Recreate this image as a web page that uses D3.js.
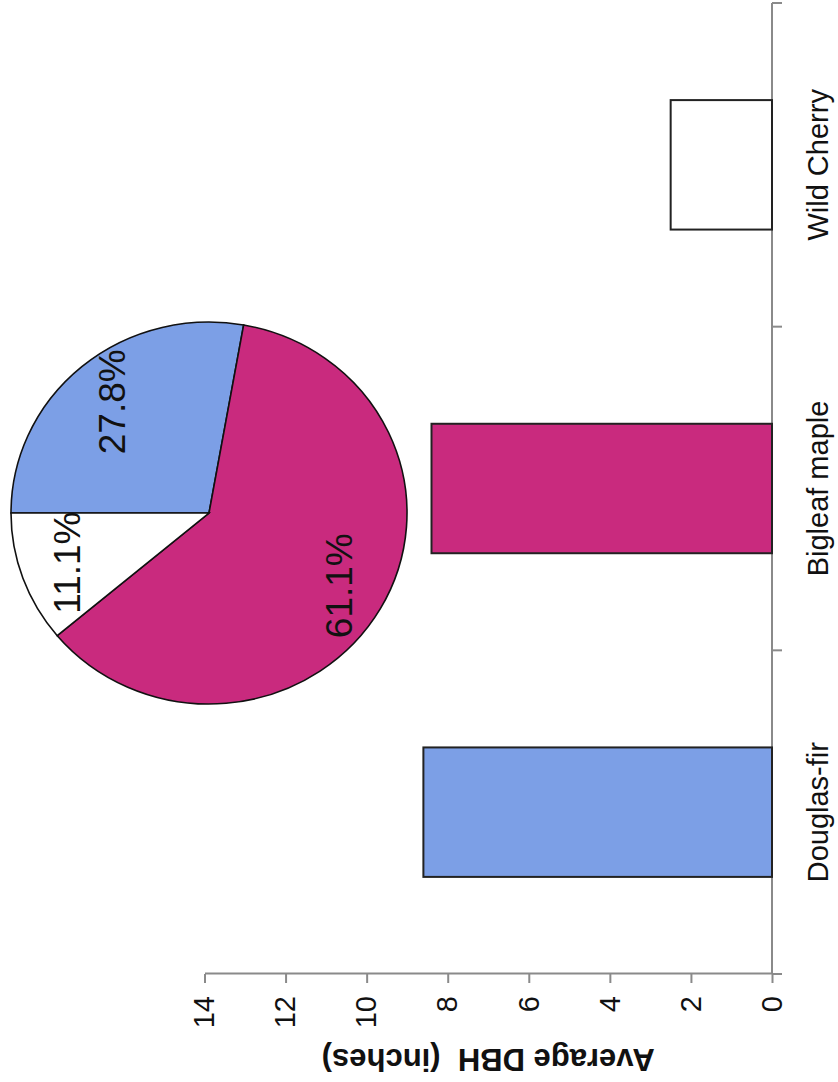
<!DOCTYPE html>
<html>
<head>
<meta charset="utf-8">
<script src="https://cdn.jsdelivr.net/npm/d3@7/dist/d3.min.js"></script>
<style>
  html, body { margin: 0; padding: 0; background: #fff; }
  svg { display: block; }
  text { font-family: "Liberation Sans", Arial, Helvetica, sans-serif; }
</style>
</head>
<body>
<svg id="chart" width="838" height="1082"></svg>
<script>
// Species and their average DBH (inches)
const species = ["Douglas-fir", "Bigleaf maple", "Wild Cherry"];
const avgDBH = [8.6, 8.4, 2.5];
// Share of stems by species (%)
const stemShare = [27.8, 61.1, 11.1];
const speciesColors = ["#7c9fe6", "#c92a7e", "#ffffff"];
const dbhTicks = [0, 2, 4, 6, 8, 10, 12, 14];
const yTitle = "Average DBH  (inches)";

const W = 1082, H = 838; // chart drawn in an upright frame, then turned onto the page
const svg = d3.select("#chart");
const g = svg.append("g").attr("transform", `translate(0,${W}) rotate(-90)`);

const axisColor = "#8a8a8a";

const x = d3.scaleBand().domain(species).range([108, 1079])
  .paddingInner(0.6).paddingOuter(0.3);
const y = d3.scaleLinear().domain([0, 14]).range([772, 204.5]);

// value axis
const yAxis = d3.axisLeft(y).tickValues(dbhTicks).tickSize(9).tickSizeOuter(0).tickPadding(13);
const ya = g.append("g").attr("transform", "translate(108,0)").call(yAxis);
ya.select(".domain").attr("stroke", axisColor).attr("stroke-width", 2);
ya.selectAll(".tick line").attr("stroke", axisColor).attr("stroke-width", 2);
ya.selectAll(".tick text").attr("font-size", 29).attr("fill", "#111")
  .attr("font-family", "'Liberation Sans', Arial, sans-serif");

// category axis
const step = x.step();
const x0 = x.range()[0];
g.append("line").attr("x1", x0).attr("x2", x.range()[1])
  .attr("y1", y(0)).attr("y2", y(0))
  .attr("stroke", axisColor).attr("stroke-width", 2);
g.selectAll(".cat-tick").data(d3.range(species.length + 1)).join("line")
  .attr("class", "cat-tick")
  .attr("x1", k => x0 + k * step).attr("x2", k => x0 + k * step)
  .attr("y1", y(0)).attr("y2", y(0) + 10)
  .attr("stroke", axisColor).attr("stroke-width", 2);
g.selectAll(".cat-label").data(species).join("text")
  .attr("class", "cat-label")
  .attr("x", d => x(d) + x.bandwidth() / 2)
  .attr("y", 828)
  .attr("text-anchor", "middle")
  .attr("font-size", 29).attr("fill", "#111")
  .text(d => d);

// axis title
g.append("text")
  .attr("transform", `translate(33,${(y(0) + y(14)) / 2}) rotate(-90)`)
  .attr("text-anchor", "middle")
  .attr("font-size", 31).attr("font-weight", "bold").attr("fill", "#111")
  .attr("xml:space", "preserve")
  .style("white-space", "pre")
  .text(yTitle);

// bars
g.selectAll(".bar").data(species).join("rect")
  .attr("class", "bar")
  .attr("x", d => x(d))
  .attr("width", x.bandwidth())
  .attr("y", (d, i) => y(avgDBH[i]))
  .attr("height", (d, i) => y(0) - y(avgDBH[i]))
  .attr("fill", (d, i) => speciesColors[i])
  .attr("stroke", "#222").attr("stroke-width", 2);

// pie of stem share
const cx = 569, cy = 209, r = 198, squash = 191 / 198;
const pie = d3.pie().sort(null).value(d => d.share).startAngle(0);
const arcs = pie(species.map((s, i) => ({ name: s, share: stemShare[i], color: speciesColors[i] })));
const arc = d3.arc().innerRadius(0).outerRadius(r);
const labelArc = d3.arc().innerRadius(r * 0.76).outerRadius(r * 0.76);

const pg = g.append("g").attr("transform", `translate(${cx},${cy})`);
pg.append("g").attr("transform", `scale(${squash},1)`)
  .selectAll("path").data(arcs).join("path")
  .attr("d", arc)
  .attr("fill", d => d.data.color)
  .attr("stroke", "#111").attr("stroke-width", 1.6);

pg.selectAll("text").data(arcs).join("text")
  .attr("x", d => labelArc.centroid(d)[0] * squash)
  .attr("y", d => labelArc.centroid(d)[1])
  .attr("text-anchor", "middle")
  .attr("dominant-baseline", "central")
  .attr("font-size", 37).attr("fill", "#111")
  .text(d => d.data.share.toFixed(1) + "%");
</script>
</body>
</html>
